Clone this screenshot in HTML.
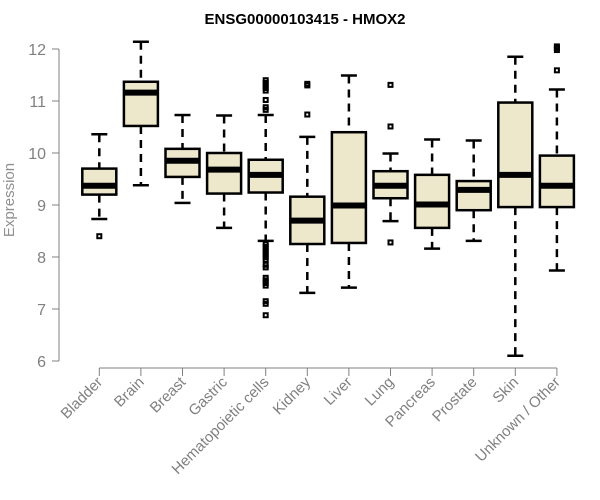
<!DOCTYPE html>
<html><head><meta charset="utf-8"><style>body{margin:0;background:#fff}svg{display:block}</style></head>
<body>
<svg id="chart" width="600" height="500" xmlns="http://www.w3.org/2000/svg" font-family="Liberation Sans, Arial, sans-serif">
<text x="305" y="24" text-anchor="middle" font-weight="bold" font-size="15">ENSG00000103415 - HMOX2</text>
<text transform="translate(14,200) rotate(-90)" text-anchor="middle" font-size="15" fill="#909090">Expression</text>
<g id="axes"></g>
<g id="marks"></g>
</svg>
<script>
const categories = ["Bladder","Brain","Breast","Gastric","Hematopoietic cells","Kidney","Liver","Lung","Pancreas","Prostate","Skin","Unknown / Other"];
const lowerWhisker = [8.73,9.38,9.04,8.56,8.31,7.31,7.41,8.69,8.16,8.31,6.10,7.74];
const q1 = [9.20,10.52,9.54,9.22,9.24,8.25,8.27,9.13,8.56,8.90,8.96,8.96];
const medians = [9.37,11.16,9.85,9.68,9.58,8.70,8.99,9.37,9.01,9.29,9.58,9.37];
const q3 = [9.70,11.37,10.08,10.00,9.87,9.16,10.40,9.65,9.58,9.46,10.97,9.95];
const upperWhisker = [10.36,12.14,10.73,10.72,10.73,10.31,11.49,9.99,10.26,10.24,11.85,11.22];
const outliers = [[8.40],[],[],[],[11.40,11.35,11.30,11.25,11.20,11.02,10.88,10.83,8.25,8.20,8.15,8.10,8.05,8.00,7.95,7.85,7.80,7.60,7.55,7.50,7.45,7.15,7.10,6.88],[11.33,11.30,10.74],[],[11.31,10.51,8.28],[],[],[],[12.05,12.02,11.98,11.59]];
const yTicks = [6,7,8,9,10,11,12];

const NS="http://www.w3.org/2000/svg";
function y(v){return 361-(v-6)*52;}
function x(i){return 99.3+i*41.6;}
function mk(parent,tag,attrs){const e=document.createElementNS(NS,tag);for(const k in attrs)e.setAttribute(k,attrs[k]);parent.appendChild(e);return e;}
const axes=document.getElementById('axes'), marks=document.getElementById('marks');
const g="#808080";
let l=mk(axes,'line',{x1:59,x2:59,y1:y(6),y2:y(12),stroke:g});


yTicks.forEach(t=>{
  const tk=mk(axes,'line',{x1:52,x2:59,y1:y(t),y2:y(t),stroke:g});
  
  
  const tx=mk(axes,'text',{x:46,y:y(t)+6,'text-anchor':'end','font-size':16,fill:g});
  
  
  tx.textContent=t;
});
l=mk(axes,'line',{x1:x(0),x2:x(categories.length-1),y1:368,y2:368,stroke:g});


categories.forEach((c,i)=>{
  const cx=x(i);
  const tk=mk(axes,'line',{x1:cx,x2:cx,y1:368,y2:376,stroke:g});
  
  
  const tx=mk(axes,'text',{transform:`translate(${cx+4},383) rotate(-45)`,'text-anchor':'end','font-size':15,fill:g});
  
  
  tx.textContent=c;
  const grp=mk(marks,'g',{});
  
  
  const hw=17, cw=8;
  mk(grp,'line',{x1:cx,x2:cx,y1:y(upperWhisker[i]),y2:y(q3[i]),stroke:'#000','stroke-width':2.5,'stroke-dasharray':'8,6'});
  mk(grp,'line',{x1:cx,x2:cx,y1:y(q1[i]),y2:y(lowerWhisker[i]),stroke:'#000','stroke-width':2.5,'stroke-dasharray':'8,6'});
  mk(grp,'line',{x1:cx-cw,x2:cx+cw,y1:y(upperWhisker[i]),y2:y(upperWhisker[i]),stroke:'#000','stroke-width':2.5});
  mk(grp,'line',{x1:cx-cw,x2:cx+cw,y1:y(lowerWhisker[i]),y2:y(lowerWhisker[i]),stroke:'#000','stroke-width':2.5});
  mk(grp,'rect',{x:cx-hw,y:y(q3[i]),width:2*hw,height:y(q1[i])-y(q3[i]),fill:'#ede7cc',stroke:'#000','stroke-width':2.5});
  mk(grp,'line',{x1:cx-hw,x2:cx+hw,y1:y(medians[i]),y2:y(medians[i]),stroke:'#000','stroke-width':6});
  outliers[i].forEach(o=>{
    const p=mk(grp,'rect',{x:cx-2,y:y(o)-2,width:4,height:4,fill:'none',stroke:'#000','stroke-width':2});
    
    
  });
});
</script>
</body></html>
